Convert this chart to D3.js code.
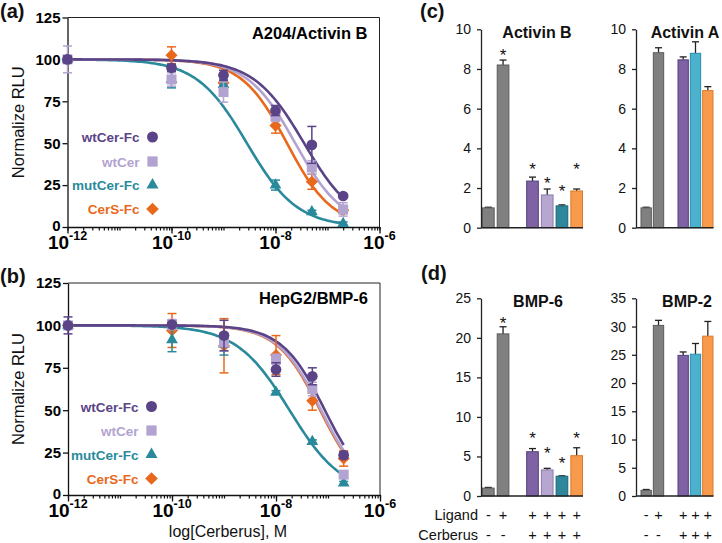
<!DOCTYPE html>
<html><head><meta charset="utf-8">
<script src="https://cdn.jsdelivr.net/npm/d3@7"></script>
<style>body{margin:0;background:#fff}svg{display:block}</style>
</head><body><svg id="chart" width="722" height="543"></svg>
<script>
// ---------------- DATA ----------------
const concentrations = [1e-12, 1e-10, 1e-9, 1e-8, 5e-8, 2e-7];
const seriesNames = ["wtCer-Fc", "wtCer", "mutCer-Fc", "CerS-Fc"];

// Panel (a) A204 / Activin B  (normalized RLU, mean and error)
const a_wtCerFc = [100, 95, 90.5, 69.5, 49, 18.5];
const a_wtCerFc_err = [2, 2, 3, 3, 11, 1];
const a_wtCer = [100, 88, 80.5, 66, 35.5, 10.5];
const a_wtCer_err = [8, 4, 6, 3, 4, 4];
const a_mutCerFc = [100, 88, 85, 25, 9, 2];
const a_mutCerFc_err = [1, 5, 3, 3, 1, 1];
const a_CerSFc = [100, 102.5, 86, 60.5, 27, 10];
const a_CerSFc_err = [1, 5, 2, 4.5, 4.5, 2];
const a_logIC50 = [-7.45, -7.62, -8.55, -7.78];
const a_hill = [0.9, 0.95, 0.9, 1.0];

// Panel (b) HepG2 / BMP-6
const b_wtCerFc = [100, 100.5, 94, 74, 70, 23.5];
const b_wtCerFc_err = [5, 1, 9, 4, 5, 2];
const b_wtCer = [100, 100.5, 90, 80, 62.5, 12];
const b_wtCer_err = [2, 3, 5, 3, 4, 2];
const b_mutCerFc = [100, 91.5, 89, 60.5, 31.5, 7];
const b_mutCerFc_err = [1, 7, 6.5, 1, 1, 1];
const b_CerSFc = [100, 97, 88, 82.5, 55.5, 21.5];
const b_CerSFc_err = [1, 10, 16, 11.5, 5.5, 4.5];
const b_logIC50 = [-7.06, -7.13, -7.74, -7.15];
const b_hill = [1.05, 1.05, 0.85, 1.05];

const xDecades = [-12, -10, -8, -6];
const yTicksCurve = [0, 25, 50, 75, 100, 125];

// Panel (c)/(d) bars
const barGroupsFive = ["ctrl", "ligand", "gap", "wtCer-Fc", "wtCer", "mutCer-Fc", "CerS-Fc"];
const barGroupsThree = ["ctrl", "ligand", "gap", "cer1", "cer2", "cer3"];
const activinB = [1.0, 8.2, 2.35, 1.65, 1.1, 1.85];
const activinB_err = [0.03, 0.25, 0.2, 0.3, 0.05, 0.1];
const activinB_star = [null, 8.87, 3.12, 2.4, 1.98, 3.12];
const activinA = [1.0, 8.82, 8.46, 8.79, 6.91];
const activinA_err = [0.03, 0.25, 0.15, 0.58, 0.2];
const bmp6 = [1.0, 20.5, 5.6, 3.3, 2.5, 5.1];
const bmp6_err = [0.08, 0.9, 0.4, 0.2, 0.05, 1.0];
const bmp6_star = [null, 22.25, 7.7, 5.8, 4.55, 7.7];
const bmp2 = [1.0, 30.2, 24.9, 25.1, 28.3];
const bmp2_err = [0.15, 0.9, 0.6, 1.9, 2.6];
const ticksActivin = [0, 2, 4, 6, 8, 10];
const ticksBMP6 = [0, 5, 10, 15, 20, 25];
const ticksBMP2 = [0, 5, 10, 15, 20, 25, 30, 35];
const ligandSignsFive = ["-", "+", "+", "+", "+", "+"];
const cerberusSignsFive = ["-", "-", "+", "+", "+", "+"];
const ligandSignsThree = ["-", "+", "+", "+", "+"];
const cerberusSignsThree = ["-", "-", "+", "+", "+"];

// ---------------- STYLE ----------------
const FONT = "'Liberation Sans', Arial, Helvetica, sans-serif";
const lineColors = ["#5a4487", "#b3a3d1", "#2a8a9c", "#e8691b"];
const symbols = [d3.symbolCircle, d3.symbolSquare, d3.symbolTriangle, "diamond"];
const barFillFive = ["#808080", "#808080", "#7e62a4", "#b6a6d0", "#2f879b", "#f79a4b"];
const barStrokeFive = ["#5a5a5a", "#5a5a5a", "#55407c", "#8d7ba9", "#1e6475", "#dc7a2c"];
const barFillThree = ["#808080", "#808080", "#7e62a4", "#4cb1cd", "#f79a4b"];
const barStrokeThree = ["#5a5a5a", "#5a5a5a", "#55407c", "#2b8cab", "#dc7a2c"];

const svg = d3.select("#chart").style("font-family", FONT);

function markerPath(i, big) {
  if (symbols[i] === "diamond") return d3.symbol(d3.symbolSquare, big ? 80 : 74)();
  const sizes = [90, 100, 60];
  return d3.symbol(symbols[i], sizes[i] * (big ? 1.05 : 1))();
}
function markerTransform(i, x, y) {
  return symbols[i] === "diamond" ? `translate(${x},${y}) rotate(45)` : `translate(${x},${y})`;
}

function drawCurvePanel(o) {
  const g = svg.append("g");
  const x = d3.scaleLog().domain([1e-12, 1e-6]).range([o.x0, o.x1]);
  const y = d3.scaleLinear().domain([0, 125]).range([o.yBot, o.yTop]);

  // frame top & right
  g.append("line").attr("x1", o.x0).attr("x2", o.x1).attr("y1", o.yTop).attr("y2", o.yTop)
    .attr("stroke", "#222").attr("stroke-width", 1);
  g.append("line").attr("x1", o.x1).attr("x2", o.x1).attr("y1", o.yTop).attr("y2", o.yBot)
    .attr("stroke", "#222").attr("stroke-width", 1);

  // y axis
  const ya = g.append("g").attr("transform", `translate(${o.x0},0)`)
    .call(d3.axisLeft(y).tickValues(yTicksCurve).tickSize(5).tickSizeOuter(0).tickPadding(2));
  ya.selectAll("text").style("font-size", "15px").style("font-weight", "bold").attr("fill", "#000")
    .attr("font-family", FONT).attr("dy", (d) => d === 0 ? "0.2em" : "0.32em");
  ya.selectAll("path,line").attr("stroke", "#111").attr("stroke-width", 1.3);

  // x axis: minor ticks
  const minor = [];
  for (let e = -12; e < -6; e++) for (let m = 1; m <= 9; m++) minor.push(m * Math.pow(10, e));
  minor.push(1e-6);
  const xa = g.append("g").attr("transform", `translate(0,${o.yBot})`)
    .call(d3.axisBottom(x).tickValues(minor).tickSize(3.5).tickSizeOuter(0).tickFormat(""));
  xa.selectAll("path,line").attr("stroke", "#111").attr("stroke-width", 1.2);
  const xm = g.append("g").attr("transform", `translate(0,${o.yBot})`)
    .call(d3.axisBottom(x).tickValues(xDecades.map(e => Math.pow(10, e))).tickSize(6.5).tickSizeOuter(0).tickFormat(""));
  xm.selectAll("path,line").attr("stroke", "#111").attr("stroke-width", 1.3);
  xDecades.forEach(e => {
    const t = g.append("text").attr("x", x(Math.pow(10, e))).attr("y", o.yBot + 22)
      .attr("text-anchor", "middle").attr("font-weight", "bold").attr("fill", "#000");
    t.append("tspan").attr("font-size", "19px").text("10");
    t.append("tspan").attr("font-size", "12.5px").attr("dy", -9).text(String(e));
  });

  // curves (4-parameter logistic fit, top 100, bottom 0)
  const lx = d3.range(0, 121).map(k => -12 + (Math.log10(2e-7) + 12) * k / 120);
  const line = d3.line().x(d => x(Math.pow(10, d[0]))).y(d => y(d[1]));
  const order = [3, 2, 1, 0];
  order.forEach(i => {
    const pts = lx.map(v => [v, 100 / (1 + Math.pow(10, (v - o.logIC50[i]) * o.hill[i]))]);
    g.append("path").attr("d", line(pts)).attr("fill", "none")
      .attr("stroke", lineColors[i]).attr("stroke-width", 2.6);
  });

  // error bars + markers
  order.forEach(i => {
    const mean = o.means[i], err = o.errs[i];
    const sg = g.append("g");
    concentrations.forEach((c, k) => {
      const cx = x(c), y1 = y(mean[k] + err[k]), y2 = y(mean[k] - err[k]);
      sg.append("line").attr("x1", cx).attr("x2", cx).attr("y1", y1).attr("y2", y2)
        .attr("stroke", lineColors[i]).attr("stroke-width", 1.5);
      [y1, y2].forEach(yy => sg.append("line").attr("x1", cx - 4.5).attr("x2", cx + 4.5)
        .attr("y1", yy).attr("y2", yy).attr("stroke", lineColors[i]).attr("stroke-width", 1.5));
    });
    sg.selectAll("path.m").data(mean).join("path").attr("class", "m")
      .attr("d", markerPath(i))
      .attr("transform", (d, k) => markerTransform(i, x(concentrations[k]), y(d)))
      .attr("fill", lineColors[i]);
  });

  // legend
  o.legendY.forEach((ly, i) => {
    g.append("text").attr("x", o.legendTextX).attr("y", ly + 5).attr("text-anchor", "end")
      .attr("font-size", "13.5px").attr("font-weight", "bold").attr("fill", lineColors[i]).text(seriesNames[i]);
    g.append("path").attr("d", markerPath(i, true)).attr("transform", markerTransform(i, o.legendTextX + 13, ly))
      .attr("fill", lineColors[i]);
  });

  // title
  g.append("text").attr("x", o.x1 - 12).attr("y", o.yTop + 21).attr("text-anchor", "end")
    .attr("font-size", "16.5px").attr("font-weight", "bold").attr("fill", "#000").text(o.title);

  // y label
  g.append("text").attr("transform", `translate(24,${(o.yTop + o.yBot) / 2}) rotate(-90)`)
    .attr("text-anchor", "middle").attr("font-size", "16.5px").attr("fill", "#111").text("Normalize RLU");
  // panel letter
  svg.append("text").attr("x", 0).attr("y", o.yTop).attr("font-size", "20px").attr("font-weight", "bold")
    .attr("fill", "#111").text(o.letter);
}

drawCurvePanel({
  x0: 67.5, x1: 379.5, yTop: 17.5, yBot: 227, title: "A204/Activin B", letter: "(a)",
  means: [a_wtCerFc, a_wtCer, a_mutCerFc, a_CerSFc],
  errs: [a_wtCerFc_err, a_wtCer_err, a_mutCerFc_err, a_CerSFc_err],
  logIC50: a_logIC50, hill: a_hill,
  legendY: [137, 161.5, 185, 209], legendTextX: 139.5
});
drawCurvePanel({
  x0: 68, x1: 380, yTop: 283, yBot: 495, title: "HepG2/BMP-6", letter: "(b)",
  means: [b_wtCerFc, b_wtCer, b_mutCerFc, b_CerSFc],
  errs: [b_wtCerFc_err, b_wtCer_err, b_mutCerFc_err, b_CerSFc_err],
  logIC50: b_logIC50, hill: b_hill,
  legendY: [406.5, 430.5, 454.5, 478.5], legendTextX: 138.5
});

svg.append("text").attr("x", 228).attr("y", 537).attr("text-anchor", "middle")
  .attr("font-size", "16px").attr("fill", "#111").text("log[Cerberus], M");

// ---------------- BAR PANELS ----------------
function drawBarPanel(o) {
  const g = svg.append("g");
  const keys = o.groups.filter(k => k !== "gap");
  const x = d3.scaleBand().domain(o.groups).range([o.bx0, o.bx1]).paddingInner(o.pad).paddingOuter(0);
  const y = d3.scaleLinear().domain([0, o.ymax]).range([o.yBot, o.yTop]);

  const ya = g.append("g").attr("transform", `translate(${o.ax},0)`)
    .call(d3.axisLeft(y).tickValues(o.ticks).tickSize(4).tickSizeOuter(0).tickPadding(6));
  ya.selectAll("text").style("font-size", "14px").attr("fill", "#111").attr("font-family", FONT);
  ya.selectAll("path,line").attr("stroke", "#222").attr("stroke-width", 1.3);

  // error bars (upward only)
  keys.forEach((k, i) => {
    const cx = x(k) + x.bandwidth() / 2;
    const yt = y(o.values[i] + o.errs[i]);
    g.append("line").attr("x1", cx).attr("x2", cx).attr("y1", y(o.values[i])).attr("y2", yt)
      .attr("stroke", "#222").attr("stroke-width", 1.3);
    g.append("line").attr("x1", cx - 3.5).attr("x2", cx + 3.5).attr("y1", yt).attr("y2", yt)
      .attr("stroke", "#222").attr("stroke-width", 1.3);
  });

  g.selectAll("rect.bar").data(keys).join("rect").attr("class", "bar")
    .attr("x", k => x(k) + 0.5).attr("width", x.bandwidth() - 1)
    .attr("y", (k, i) => y(o.values[i])).attr("height", (k, i) => o.yBot - y(o.values[i]))
    .attr("fill", (k, i) => o.fills[i]).attr("stroke", (k, i) => o.strokes[i]).attr("stroke-width", 1);

  g.append("line").attr("x1", o.ax).attr("x2", o.bx1).attr("y1", o.yBot).attr("y2", o.yBot)
    .attr("stroke", "#222").attr("stroke-width", 1.5);

  if (o.stars) keys.forEach((k, i) => {
    if (o.stars[i] == null) return;
    g.append("text").attr("x", x(k) + x.bandwidth() / 2).attr("y", y(o.stars[i]) + 9)
      .attr("text-anchor", "middle").attr("font-size", "17px").attr("fill", "#111").text("*");
  });

  g.append("text").attr("x", o.titleX).attr("y", o.yTop + 8.5).attr("text-anchor", "middle")
    .attr("font-size", "16px").attr("font-weight", "bold").attr("fill", "#111").text(o.title);

  if (o.signs) {
    keys.forEach((k, i) => {
      const cx = x(k) + x.bandwidth() / 2;
      g.append("text").attr("x", cx).attr("y", 519.5).attr("text-anchor", "middle")
        .attr("font-size", "14.5px").attr("fill", "#111").text(o.signs[0][i]);
      g.append("text").attr("x", cx).attr("y", 539.5).attr("text-anchor", "middle")
        .attr("font-size", "14.5px").attr("fill", "#111").text(o.signs[1][i]);
    });
  }
}

drawBarPanel({ groups: barGroupsFive, bx0: 482, bx1: 583, pad: 0.14, ax: 481, yTop: 29.3, yBot: 227.7, ymax: 10,
  ticks: ticksActivin, values: activinB, errs: activinB_err, stars: activinB_star,
  fills: barFillFive, strokes: barStrokeFive, title: "Activin B", titleX: 537 });
drawBarPanel({ groups: barGroupsThree, bx0: 640.5, bx1: 713.5, pad: 0.08, ax: 636, yTop: 29.3, yBot: 227.7, ymax: 10,
  ticks: ticksActivin, values: activinA, errs: activinA_err,
  fills: barFillThree, strokes: barStrokeThree, title: "Activin A", titleX: 685 });
drawBarPanel({ groups: barGroupsFive, bx0: 482, bx1: 583, pad: 0.14, ax: 481, yTop: 298.3, yBot: 496, ymax: 25,
  ticks: ticksBMP6, values: bmp6, errs: bmp6_err, stars: bmp6_star,
  fills: barFillFive, strokes: barStrokeFive, title: "BMP-6", titleX: 538,
  signs: [ligandSignsFive, cerberusSignsFive] });
drawBarPanel({ groups: barGroupsThree, bx0: 640.5, bx1: 713.5, pad: 0.08, ax: 636, yTop: 298.3, yBot: 496, ymax: 35,
  ticks: ticksBMP2, values: bmp2, errs: bmp2_err,
  fills: barFillThree, strokes: barStrokeThree, title: "BMP-2", titleX: 687,
  signs: [ligandSignsThree, cerberusSignsThree] });

svg.append("text").attr("x", 478).attr("y", 519.5).attr("text-anchor", "end").attr("font-size", "14.5px").attr("fill", "#111").text("Ligand");
svg.append("text").attr("x", 478).attr("y", 539.5).attr("text-anchor", "end").attr("font-size", "14.5px").attr("fill", "#111").text("Cerberus");
svg.append("text").attr("x", 420).attr("y", 18).attr("font-size", "20px").attr("font-weight", "bold").attr("fill", "#111").text("(c)");
svg.append("text").attr("x", 421).attr("y", 280).attr("font-size", "20px").attr("font-weight", "bold").attr("fill", "#111").text("(d)");
</script></body></html>
